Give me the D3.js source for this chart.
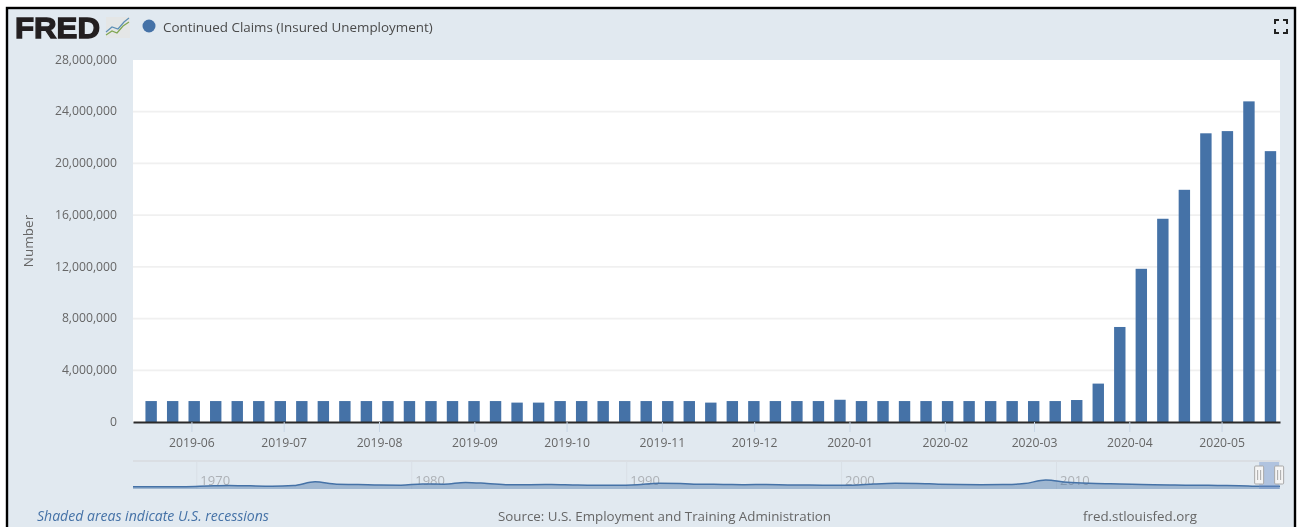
<!DOCTYPE html>
<html>
<head>
<meta charset="utf-8">
<script src="https://cdn.jsdelivr.net/npm/d3@7/dist/d3.min.js"></script>
<style>
html,body{margin:0;padding:0;background:#fff;overflow:hidden}
svg{display:block;font-family:"Open Sans",sans-serif;filter:blur(0.45px)}
</style>
</head>
<body>
<svg id="chart" width="1297" height="527"></svg>
<script>
const seriesName = "Continued Claims (Insured Unemployment)";
const weekDates = ["2019-05-18","2019-05-25","2019-06-01","2019-06-08","2019-06-15","2019-06-22","2019-06-29","2019-07-06","2019-07-13","2019-07-20","2019-07-27","2019-08-03","2019-08-10","2019-08-17","2019-08-24","2019-08-31","2019-09-07","2019-09-14","2019-09-21","2019-09-28","2019-10-05","2019-10-12","2019-10-19","2019-10-26","2019-11-02","2019-11-09","2019-11-16","2019-11-23","2019-11-30","2019-12-07","2019-12-14","2019-12-21","2019-12-28","2020-01-04","2020-01-11","2020-01-18","2020-01-25","2020-02-01","2020-02-08","2020-02-15","2020-02-22","2020-02-29","2020-03-07","2020-03-14","2020-03-21","2020-03-28","2020-04-04","2020-04-11","2020-04-18","2020-04-25","2020-05-02","2020-05-09","2020-05-16"];
const claims = [1620000,1620000,1620000,1620000,1620000,1620000,1620000,1620000,1620000,1620000,1620000,1620000,1620000,1620000,1620000,1620000,1620000,1500000,1500000,1620000,1620000,1620000,1620000,1620000,1620000,1620000,1500000,1620000,1620000,1620000,1620000,1620000,1720000,1620000,1620000,1620000,1620000,1620000,1620000,1620000,1620000,1620000,1620000,1700000,2970000,7350000,11850000,15720000,17960000,22330000,22500000,24800000,20950000];
const yTicks = [0,4000000,8000000,12000000,16000000,20000000,24000000,28000000];
const monthTicks = ["2019-06","2019-07","2019-08","2019-09","2019-10","2019-11","2019-12","2020-01","2020-02","2020-03","2020-04","2020-05"];
const navYears = [1966,1967,1968,1969,1970,1971,1972,1973,1974,1975,1976,1977,1978,1979,1980,1981,1982,1983,1984,1985,1986,1987,1988,1989,1990,1991,1992,1993,1994,1995,1996,1997,1998,1999,2000,2001,2002,2003,2004,2005,2006,2007,2008,2009,2010,2011,2012,2013,2014,2015,2016,2017,2018,2019,2020];
const navClaimsM = [1.0,1.0,1.0,1.0,1.5,1.9,1.6,1.4,1.8,4.6,2.8,2.6,2.2,2.1,3.0,2.9,4.2,3.4,2.4,2.5,2.6,2.3,2.1,2.1,2.5,3.5,3.3,2.8,2.7,2.5,2.6,2.3,2.2,2.1,2.1,3.0,3.5,3.4,2.9,2.6,2.45,2.55,3.3,6.0,4.4,3.6,3.2,2.9,2.4,2.2,2.1,1.9,1.75,1.3,1.3];
const navTicks = [1970,1980,1990,2000,2010];

const BG="#e1e9f0", BLUE="#4572a7", GREY="#666";
const svg = d3.select("#chart");
const parseDay = d3.utcParse("%Y-%m-%d"), parseMonth = d3.utcParse("%Y-%m");
const fmtMonth = d3.utcFormat("%Y-%m");

// frame
svg.append("rect").attr("x",7).attr("y",8).attr("width",1288).attr("height",530)
  .attr("fill",BG).attr("stroke","#000").attr("stroke-width",2.4);

// plot
const L=133,R=1280,T=60,B=422;
svg.append("rect").attr("x",L).attr("y",T).attr("width",R-L).attr("height",B-T).attr("fill","#fff");
const x = d3.scaleUtc().domain([parseDay("2019-05-13"),parseDay("2020-05-20")]).range([L,R]);
const y = d3.scaleLinear().domain([0,28000000]).range([B,T]);

// grid
svg.append("g").selectAll("line").data(yTicks.slice(1,-1)).join("line")
  .attr("x1",L).attr("x2",R).attr("y1",d=>y(d)).attr("y2",d=>y(d))
  .attr("stroke","#f0f0f0").attr("stroke-width",1.8);

// y axis
const yAxis = svg.append("g").attr("transform",`translate(${L},0)`)
  .call(d3.axisLeft(y).tickValues(yTicks).tickFormat(d3.format(",")).tickSize(0).tickPadding(16));
yAxis.select(".domain").remove();
yAxis.selectAll("text").attr("fill",GREY).attr("font-size",12.2).attr("font-family","'Open Sans',sans-serif").attr("dy","0.26em");

// bars
const BAR_W=11.4, DAY_OFFSET=0.9;
svg.append("g").selectAll("rect").data(weekDates).join("rect")
  .attr("x",d=>x(new Date(+parseDay(d)+DAY_OFFSET*864e5))-BAR_W/2)
  .attr("width",BAR_W)
  .attr("y",(d,i)=>y(claims[i]))
  .attr("height",(d,i)=>B-y(claims[i]))
  .attr("fill",BLUE);

// x axis
const xAxis = svg.append("g").attr("transform",`translate(0,${B})`)
  .call(d3.axisBottom(x).tickValues(monthTicks.map(parseMonth)).tickFormat(fmtMonth).tickSize(10).tickPadding(8).tickSizeOuter(0));
xAxis.selectAll(".tick line").attr("stroke","#c8d6e6").attr("stroke-width",1);
xAxis.selectAll("text").attr("fill",GREY).attr("font-size",12.2).attr("font-family","'Open Sans',sans-serif").attr("dy","0.55em");
xAxis.select(".domain").attr("stroke","#2a2a2a").attr("stroke-width",2.2);

// y title
svg.append("text").attr("transform","translate(33,241) rotate(-90)").attr("text-anchor","middle")
  .attr("fill",GREY).attr("font-size",13.5).text("Number");

// legend
svg.append("circle").attr("cx",149).attr("cy",26).attr("r",6.5).attr("fill",BLUE);
svg.append("text").attr("x",163).attr("y",32).attr("fill","#4a4a4a").attr("font-size",13.4).text(seriesName);

// logo
svg.append("text").attr("x",15).attr("y",37.5).attr("font-family","'Liberation Sans',sans-serif").attr("font-weight",700)
  .attr("font-size",30).attr("fill","#231f20").attr("stroke","#231f20").attr("stroke-width",1.3)
  .attr("textLength",85).attr("lengthAdjust","spacingAndGlyphs").text("FRED");
const logo = svg.append("g");
logo.append("rect").attr("x",106).attr("y",17).attr("width",24).attr("height",21).attr("fill","#e4e6e6");
logo.append("path").attr("d","M106 35 L112 31 L117 33 L123 26 L129 22").attr("fill","none").attr("stroke","#7fa650").attr("stroke-width",1.2);
logo.append("path").attr("d","M106 32 L112 27 L118 29 L124 22 L129 18").attr("fill","none").attr("stroke","#5d8fb5").attr("stroke-width",1.2);

// fullscreen icon
svg.append("path").attr("d","M1275 24V20H1279 M1283 20H1287V24 M1287 29V33H1283 M1279 33H1275V29")
  .attr("fill","none").attr("stroke","#222").attr("stroke-width",2);

// navigator
const NT=461,NB=489;
const nx = d3.scaleLinear().domain([1967.03,2020.4]).range([L,R]).clamp(true);
const ny = d3.scaleLinear().domain([0,6]).range([488,480]);
svg.append("line").attr("x1",L).attr("x2",R).attr("y1",NT).attr("y2",NT).attr("stroke","#d3d3d6");
const navAxis = svg.append("g").selectAll("g").data(navTicks).join("g");
navAxis.append("line").attr("x1",d=>nx(d)).attr("x2",d=>nx(d)).attr("y1",NT).attr("y2",NB).attr("stroke","#d9dfe6");
navAxis.append("text").attr("x",d=>nx(d)+3.5).attr("y",485).attr("fill","#adb1b6").attr("font-size",13).text(d=>d);
const nData = navYears.map((yr,i)=>[yr+0.5,navClaimsM[i]]);
svg.append("path").datum(nData).attr("fill",BLUE).attr("fill-opacity",0.42)
  .attr("d",d3.area().x(d=>nx(d[0])).y0(NB).y1(d=>ny(d[1])).curve(d3.curveMonotoneX));
svg.append("path").datum(nData).attr("fill","none").attr("stroke",BLUE).attr("stroke-width",1.5)
  .attr("d",d3.line().x(d=>nx(d[0])).y(d=>ny(d[1])).curve(d3.curveMonotoneX));
const selA=nx(2019.43), selB=nx(2020.36);
svg.append("rect").attr("x",selA).attr("y",NT+1).attr("width",selB-selA).attr("height",NB-NT-1).attr("fill","#6d8fc9").attr("fill-opacity",0.42);
[selA,selB].forEach(h=>{
  const g=svg.append("g").attr("transform",`translate(${h},0)`);
  g.append("rect").attr("x",-4.5).attr("y",466).attr("width",9).attr("height",18).attr("rx",1).attr("fill","#f5f5f5").attr("stroke","#a8a8a8");
  g.append("path").attr("d","M-1.5 470V480 M1.5 470V480").attr("stroke","#a8a8a8");
});

// footer
svg.append("text").attr("x",37).attr("y",520.5).attr("fill",BLUE).attr("font-size",14.05).attr("font-style","italic").text("Shaded areas indicate U.S. recessions");
svg.append("text").attr("x",664.5).attr("y",520.5).attr("text-anchor","middle").attr("fill",GREY).attr("font-size",13.35).text("Source: U.S. Employment and Training Administration");
svg.append("text").attr("x",1083).attr("y",520.5).attr("fill",GREY).attr("font-size",13.35).text("fred.stlouisfed.org");
</script>
</body>
</html>
